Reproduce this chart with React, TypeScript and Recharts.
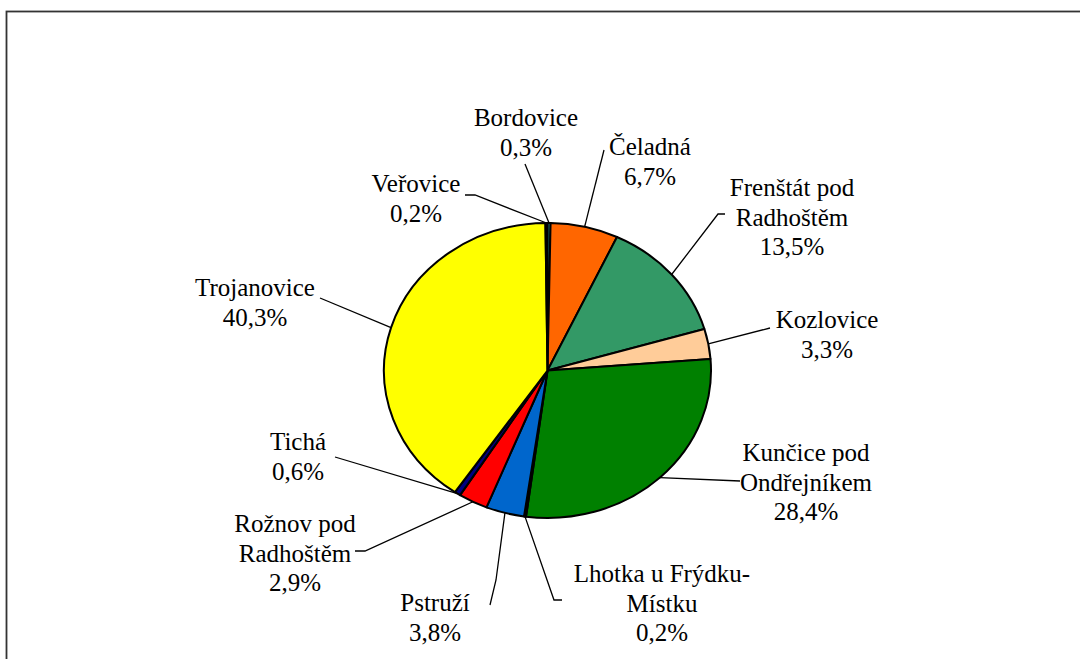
import { PieChart, Pie, Cell } from 'recharts';

const names = [
  'Bordovice',
  'Čeladná',
  'Frenštát pod\nRadhoštěm',
  'Kozlovice',
  'Kunčice pod\nOndřejníkem',
  'Lhotka u Frýdku-\nMístku',
  'Pstruží',
  'Rožnov pod\nRadhoštěm',
  'Tichá',
  'Trojanovice',
  'Veřovice',
];

const shares = [0.3, 6.7, 13.5, 3.3, 28.4, 0.2, 3.8, 2.9, 0.6, 40.3, 0.2];

const colors = [
  '#33CCCC',
  '#FF6600',
  '#339966',
  '#FFCC99',
  '#008000',
  '#993366',
  '#0066CC',
  '#FF0000',
  '#000080',
  '#FFFF00',
  '#800000',
];

const data = names.map((name, i) => ({ name, value: shares[i] }));

// label placement (text centre x, first baseline y, leader start, optional elbow)
const labelPos = [
  { x: 526, y: 126, lx: 525, ly: 164 },
  { x: 650, y: 155, lx: 604, ly: 150 },
  { x: 792, y: 196, lx: 725, ly: 214, ex: 718 },
  { x: 827, y: 328, lx: 770, ly: 328 },
  { x: 806, y: 461, lx: 740, ly: 481 },
  { x: 662, y: 582, lx: 562, ly: 600, ex: 554 },
  { x: 435, y: 611, lx: 490, ly: 605, ex: 496, ey: 580 },
  { x: 295, y: 532, lx: 355, ly: 551, ex: 365 },
  { x: 298, y: 450, lx: 335, ly: 457 },
  { x: 255, y: 296, lx: 320, ly: 298 },
  { x: 416, y: 192, lx: 465, ly: 195, ex: 475 },
];

const FONT =
  "'Liberation Serif', 'Times New Roman', Times, 'Nimbus Roman', 'Nimbus Roman No9 L', FreeSerif, 'Noto Serif', 'DejaVu Serif', Tinos, serif";
const RX = 163.5;
const RY = 147.5;
const RAD = Math.PI / 180;

const ellPoint = (cx: number, cy: number, a: number) => [
  cx + RX * Math.cos(-a * RAD),
  cy + RY * Math.sin(-a * RAD),
];

function EllipseSector(props: any) {
  const { cx, cy, startAngle, endAngle, fill } = props;
  const [x1, y1] = ellPoint(cx, cy, startAngle);
  const [x2, y2] = ellPoint(cx, cy, endAngle);
  const large = Math.abs(startAngle - endAngle) > 180 ? 1 : 0;
  const sweep = startAngle > endAngle ? 1 : 0;
  const d = `M${cx},${cy} L${x1},${y1} A${RX},${RY} 0 ${large} ${sweep} ${x2},${y2} Z`;
  return <path d={d} fill={fill} stroke="#000" strokeWidth={2} strokeLinejoin="round" />;
}

function renderLabel(props: any) {
  const { cx, cy, midAngle, index, value } = props;
  const p = labelPos[index];
  const [px, py] = ellPoint(cx, cy, midAngle);
  const lines = [...names[index].split('\n'), value.toFixed(1).replace('.', ',') + '%'];
  let pts = `${p.lx},${p.ly} `;
  if (p.ex !== undefined) pts += `${p.ex},${p.ey ?? p.ly} `;
  pts += `${px},${py}`;
  return (
    <g key={'lbl' + index}>
      <polyline points={pts} fill="none" stroke="#000" strokeWidth={1.3} />
      <text
        x={p.x}
        y={p.y}
        textAnchor="middle"
        fontFamily={FONT}
        fontSize={25}
        style={{ fontFamily: FONT, fontSize: 25 }}
        fill="#000"
      >
        {lines.map((l, i) => (
          <tspan key={i} x={p.x} y={p.y + i * 29.5}>
            {l}
          </tspan>
        ))}
      </text>
    </g>
  );
}

export default function App() {
  return (
    <div style={{ position: 'absolute', left: 0, top: 0, width: 1080, height: 659, background: '#fff', fontFamily: FONT }}>
      <svg width={1080} height={659} style={{ position: 'absolute', left: 0, top: 0 }}>
        <rect x={6.5} y={11.5} width={1090} height={660} fill="none" stroke="#333" strokeWidth={1.8} />
      </svg>
      <div style={{ position: 'absolute', left: 0, top: 0 }}>
        <PieChart width={1080} height={659} margin={{ top: 0, right: 0, bottom: 0, left: 0 }}>
          <Pie
            data={data}
            dataKey="value"
            nameKey="name"
            cx={547.5}
            cy={370.5}
            outerRadius={RX}
            startAngle={90}
            endAngle={-270}
            isAnimationActive={false}
            label={renderLabel}
            labelLine={false}
            shape={EllipseSector}
            activeShape={EllipseSector}
            inactiveShape={EllipseSector}
          >
            {data.map((d, i) => (
              <Cell key={d.name} fill={colors[i]} />
            ))}
          </Pie>
        </PieChart>
      </div>
    </div>
  );
}
